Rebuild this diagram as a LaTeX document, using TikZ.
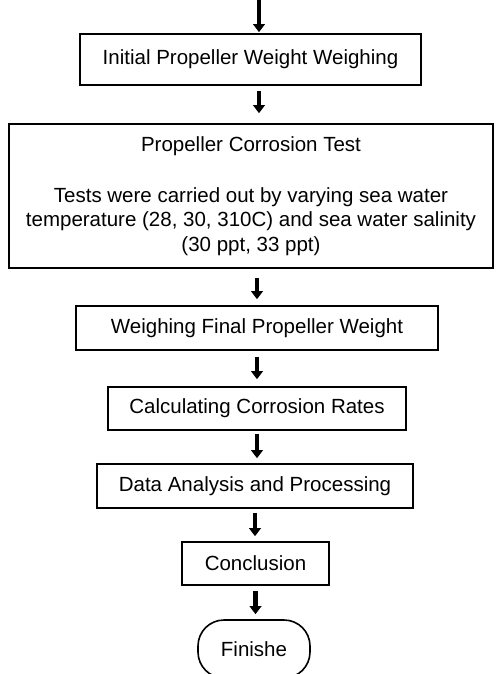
\documentclass[tikz,border=0pt]{standalone}
\usepackage{fontspec}
\setmainfont{Liberation Sans}
\usetikzlibrary{arrows.meta}
\begin{document}
\begin{tikzpicture}[x=1pt,y=-1pt,
  box/.style={draw, line width=1.6pt, inner sep=0pt,
    font=\fontsize{20.5}{24.5}\selectfont, align=center},
  flow/.style={line width=4.5pt, -{Triangle[width=11.5pt,length=8pt]}}]
\useasboundingbox (0,0) rectangle (502,674);

% process steps, top to bottom
\node[box, minimum width=341pt, minimum height=51pt] (b1) at (250.5,59.5)
  {Initial Propeller Weight Weighing};
\node[box, minimum width=484pt, minimum height=144pt] (b2) at (251,196)
  {Propeller Corrosion Test\\[26.5pt]
   Tests were carried out by varying sea water\\
   temperature (28, 30, 310C) and sea water salinity\\
   (30 ppt, 33 ppt)};
\node[box, minimum width=362pt, minimum height=44pt] (b3) at (257,328)
  {Weighing Final Propeller Weight};
\node[box, minimum width=298pt, minimum height=43pt] (b4) at (257,408.5)
  {Calculating Corrosion Rates};
\node[box, minimum width=316pt, minimum height=44pt] (b5) at (255,486)
  {Data Analysis and Processing};
\node[box, minimum width=147pt, minimum height=43pt] (b6) at (255.5,563.5)
  {Conclusion};
\node[box, rounded corners=26pt, minimum width=112pt, minimum height=58pt] (end) at (254,649)
  {Finishe};

% incoming flow from above the first step
\coordinate (start) at (259,0);

% connectors
\draw[flow, shorten >=1pt] (start) -- (start |- b1.north);
\draw[flow, shorten <=5pt, shorten >=10pt] (start |- b1.south) -- (start |- b2.north);
\draw[flow, shorten <=9pt, shorten >=6pt] (b3.north |- b2.south) -- (b3.north);
\draw[flow, shorten <=6pt, shorten >=7pt] (b3.south) -- (b3.south |- b4.north);
\draw[flow, shorten <=3pt, shorten >=5pt] (b4.south) -- (b4.south |- b5.north);
\draw[flow, shorten <=4pt, shorten >=5pt] (b5.south) -- (b5.south |- b6.north);
\draw[flow, shorten <=5pt, shorten >=5pt] (b6.south) -- (b6.south |- end.north);
\end{tikzpicture}
\end{document}
